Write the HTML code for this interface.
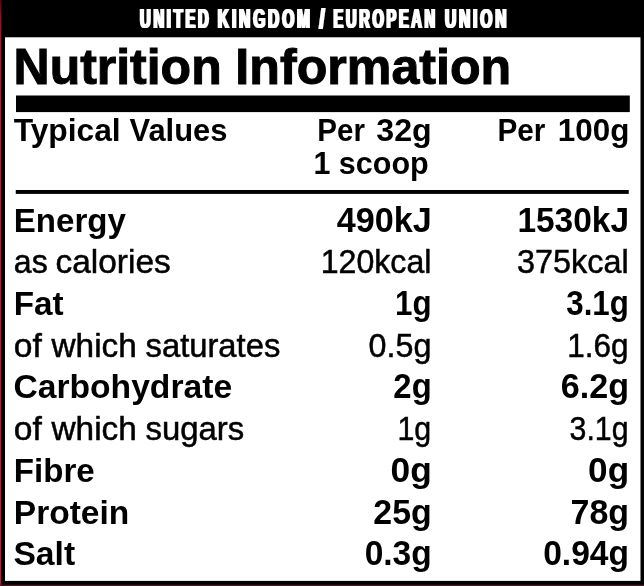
<!DOCTYPE html>
<html><head><meta charset="utf-8"><title>Nutrition Information</title>
<style>
html,body{margin:0;padding:0;background:#000;}
body{width:644px;height:586px;overflow:hidden;}
svg{display:block;}
text{font-family:"Liberation Sans",Arial,Helvetica,sans-serif;fill:#000;}
.b{font-weight:bold;}
.s5{stroke:#000;stroke-width:0.5px;}
.s10{stroke:#000;stroke-width:1px;}
.u{fill:#fff;stroke:#fff;stroke-width:0.2px;}
</style></head><body>
<svg width="644" height="586" viewBox="0 0 644 586">
<defs>
<linearGradient id="gl" x1="0" y1="0" x2="0" y2="1"><stop offset="0" stop-color="#4a0a10"/><stop offset="0.03" stop-color="#7c1f2b"/><stop offset="0.1" stop-color="#8c2a38"/><stop offset="1" stop-color="#92303e"/></linearGradient>
<filter id="hb" x="0" y="0" width="644" height="40" filterUnits="userSpaceOnUse" primitiveUnits="userSpaceOnUse"><feOffset in="SourceGraphic" dx="0.75" dy="0" result="a"/><feOffset in="SourceGraphic" dx="-0.75" dy="0" result="b"/><feMerge><feMergeNode in="a"/><feMergeNode in="b"/><feMergeNode in="SourceGraphic"/></feMerge></filter>
</defs>
<rect x="0" y="0" width="644" height="586" fill="#000"/>
<rect x="0" y="0" width="1.2" height="586" fill="url(#gl)"/>
<rect x="1.2" y="0" width="0.9" height="586" fill="#3a080e"/>
<rect x="0" y="584.6" width="644" height="1.4" fill="#4a1622"/>
<rect x="5" y="37.3" width="635.5" height="543.6" fill="#fff"/>
<rect x="16" y="95.5" width="613.8" height="16.6" fill="#000"/>
<rect x="15.75" y="190" width="613" height="3.9" fill="#000"/>
<g filter="url(#hb)">
<text class="b u" font-size="27.3" letter-spacing="5.0" transform="translate(140.01 27.50) scale(0.5427 1)">UNITED</text>
<text class="b u" font-size="27.3" letter-spacing="5.0" transform="translate(217.87 27.50) scale(0.5692 1)">KINGDOM</text>
<text class="b u" font-size="27.3" letter-spacing="5.0" transform="translate(319.13 27.50) scale(0.7310 1)">/</text>
<text class="b u" font-size="27.3" letter-spacing="5.0" transform="translate(333.52 27.50) scale(0.5359 1)">EUROPEAN</text>
<text class="b u" font-size="27.3" letter-spacing="5.0" transform="translate(444.97 27.50) scale(0.5694 1)">UNION</text>
</g>
<text class="b s10" font-size="50.0" transform="translate(13.56 83.90) scale(0.9994 1)">Nutrition</text>
<text class="b s10" font-size="50.0" transform="translate(235.35 83.90) scale(1.0032 1)">Information</text>
<text class="b" font-size="31.8" transform="translate(13.64 140.70) scale(0.9991 1)">Typical</text>
<text class="b" font-size="31.8" transform="translate(129.49 140.70) scale(0.9724 1)">Values</text>
<text class="b" font-size="31.8" transform="translate(317.32 140.70) scale(0.9289 1)">Per</text>
<text class="b" font-size="31.8" transform="translate(376.26 140.70) scale(1.0128 1)">32g</text>
<text class="b" font-size="31.8" transform="translate(313.38 174.30) scale(0.9594 1)">1 scoop</text>
<text class="b" font-size="31.8" transform="translate(497.41 140.70) scale(0.9351 1)">Per</text>
<text class="b" font-size="31.8" transform="translate(557.82 140.70) scale(0.9891 1)">100g</text>
<text class="b" font-size="33.6" transform="translate(13.79 231.60) scale(0.9838 1)">Energy</text>
<text class="b" font-size="34.4" transform="translate(336.78 231.60) scale(0.9940 1)">490kJ</text>
<text class="b" font-size="34.4" transform="translate(517.39 231.60) scale(0.9733 1)">1530kJ</text>
<text class="s5" font-size="32.5" transform="translate(13.78 273.30) scale(0.9885 1)">as</text>
<text class="s5" font-size="32.5" transform="translate(55.54 273.30) scale(1.0288 1)">calories</text>
<text class="s5" font-size="34.0" transform="translate(320.69 273.30) scale(0.9448 1)">120kcal</text>
<text class="s5" font-size="34.0" transform="translate(517.00 273.30) scale(0.9534 1)">375kcal</text>
<text class="b" font-size="33.6" transform="translate(13.78 315.00) scale(0.9893 1)">Fat</text>
<text class="b" font-size="34.4" transform="translate(395.03 315.00) scale(0.9112 1)">1g</text>
<text class="b" font-size="34.4" transform="translate(566.28 315.00) scale(0.9099 1)">3.1g</text>
<text class="s5" font-size="32.5" transform="translate(13.75 356.70) scale(1.0347 1)">of</text>
<text class="s5" font-size="32.5" transform="translate(51.51 356.70) scale(1.0279 1)">which</text>
<text class="s5" font-size="32.5" transform="translate(145.54 356.70) scale(1.0083 1)">saturates</text>
<text class="s5" font-size="34.0" transform="translate(368.48 356.70) scale(0.9501 1)">0.5g</text>
<text class="s5" font-size="34.0" transform="translate(567.33 356.70) scale(0.9258 1)">1.6g</text>
<text class="b" font-size="33.6" transform="translate(13.42 398.40) scale(1.0015 1)">Carbohydrate</text>
<text class="b" font-size="34.4" transform="translate(393.36 398.40) scale(0.9552 1)">2g</text>
<text class="b" font-size="34.4" transform="translate(560.75 398.40) scale(0.9930 1)">6.2g</text>
<text class="s5" font-size="32.5" transform="translate(13.75 440.10) scale(1.0347 1)">of</text>
<text class="s5" font-size="32.5" transform="translate(51.51 440.10) scale(1.0279 1)">which</text>
<text class="s5" font-size="32.5" transform="translate(145.54 440.10) scale(1.0128 1)">sugars</text>
<text class="s5" font-size="34.0" transform="translate(397.41 440.10) scale(0.8945 1)">1g</text>
<text class="s5" font-size="34.0" transform="translate(569.57 440.10) scale(0.8910 1)">3.1g</text>
<text class="b" font-size="33.6" transform="translate(13.79 481.80) scale(0.9848 1)">Fibre</text>
<text class="b" font-size="34.4" transform="translate(390.60 481.80) scale(1.0282 1)">0g</text>
<text class="b" font-size="34.4" transform="translate(588.11 481.80) scale(1.0227 1)">0g</text>
<text class="b" font-size="33.6" transform="translate(13.76 523.50) scale(0.9987 1)">Protein</text>
<text class="b" font-size="34.4" transform="translate(373.32 523.50) scale(0.9863 1)">25g</text>
<text class="b" font-size="34.4" transform="translate(570.54 523.50) scale(0.9877 1)">78g</text>
<text class="b" font-size="33.6" transform="translate(13.43 565.20) scale(1.0016 1)">Salt</text>
<text class="b" font-size="34.4" transform="translate(364.67 565.20) scale(0.9746 1)">0.3g</text>
<text class="b" font-size="34.4" transform="translate(543.17 565.20) scale(0.9765 1)">0.94g</text>
</svg>
</body></html>
